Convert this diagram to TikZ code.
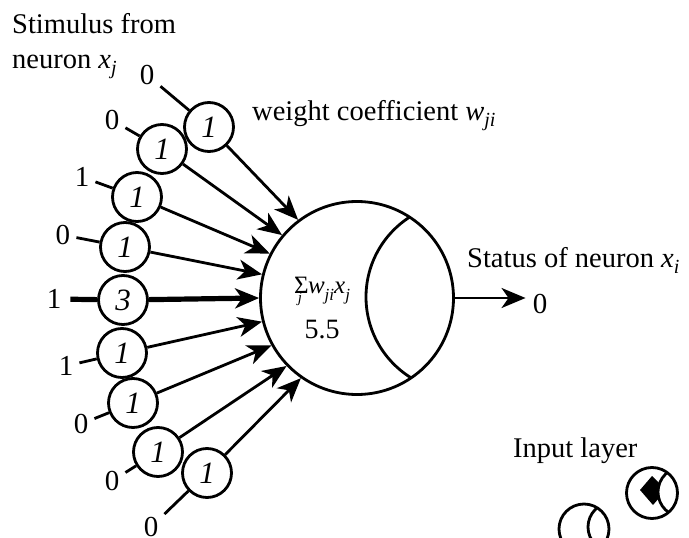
\documentclass[tikz,border=0pt]{standalone}
\usepackage{fontspec}
\setmainfont{Liberation Serif}
\usetikzlibrary{arrows.meta}
\tikzset{
  wcirc/.style={circle, draw, line width=2.8pt, minimum size=49pt, inner sep=0pt, font=\fontsize{31}{31}\selectfont\itshape},
  inlab/.style={inner sep=6pt, font=\fontsize{29}{30}\selectfont},
  conn/.style={line width=2.8pt},
  tip/.style={-{Stealth[length=24pt,width=20pt,inset=7pt]}},
  arr/.style={line width=2.8pt, tip},
  txt/.style={font=\fontsize{28.5}{30}\selectfont, inner sep=0pt, anchor=base west},
  icon/.style={circle, draw, line width=2.8pt, inner sep=0pt},
}
\newcommand{\sbs}[2][20]{\raisebox{-6.5pt}{\fontsize{#1}{#1}\selectfont\itshape #2}}
\begin{document}
\begin{tikzpicture}[x=1pt,y=-1pt]
\useasboundingbox (0,0) rectangle (689,538);
\clip (0,0) rectangle (689,538);

% main neuron
\node[circle, draw, line width=2.8pt, minimum size=193pt, inner sep=0pt] (big) at (357,298) {};
\begin{scope}
  \clip (357,298) circle (96.5pt);
  \draw[conn] (461,297) circle (95pt);
\end{scope}
\node[font=\fontsize{25}{25}\selectfont, inner sep=0pt, anchor=base] (sum) at (322,293)
  {Σ\hspace{-0.62em}\raisebox{-9pt}[0pt][0pt]{\makebox[0.55em]{\fontsize{15}{15}\selectfont\itshape j}}\hspace{0.05em}\textit{w}\raisebox{-0.3em}{\fontsize{17}{17}\selectfont\itshape ji}\textit{x}\raisebox{-0.3em}{\fontsize{17}{17}\selectfont\itshape j}};
\node[font=\fontsize{28}{28}\selectfont, inner sep=0pt, anchor=base] (val) at (322,338) {5.5};

% inputs
\foreach \n/\cx/\cy/\lx/\ly/\v/\a in {
  1/209/127/147/75/0/127,
  2/162/149/112/120/0/140,
  3/137/197/82/177/1/153,
  4/125/247/63/235/0/166,
  6/122/353/66/366/1/194,
  7/133/403/81/424/0/209,
  8/158/452/112/481/0/224,
  9/207/473/151/527/0/235}{
  \node[wcirc] (c\n) at (\cx,\cy) {1};
  \node[inlab] (l\n) at (\lx,\ly) {\v};
  \draw[conn] (l\n) -- (c\n);
  \draw[arr] (c\n) -- (big.\a);
}
\node[wcirc] (c5) at (123,300) {3};
\node[inlab, inner sep=9pt] (l5) at (54,299) {1};
\draw[line width=5.2pt] (l5) -- (c5);
\draw[line width=5.2pt, tip] (c5) -- (big.180);

% output
\node[inlab, inner sep=7pt] (o) at (540,304) {0};
\draw[arr] (big.east) -- (o.west |- big.east);

% texts
\node[txt] (s1) at (12,33) {Stimulus from};
\node[txt] (s2) at (12,68) {neuron \textit{x}\sbs{j}};
\node[txt] (wc) at (252,120) {weight coefficient \textit{w}\sbs{ji}};
\node[txt] (st) at (467,267) {Status of neuron \textit{x}\sbs{i}};
\node[txt] (il) at (513,457) {Input layer};

% input layer icons
\fill (640,490) -- (652,476) -- (666,490) -- (653,505) -- cycle;
\begin{scope}
  \clip (652,493) circle (25pt);
  \fill[white] (683,492) circle (25pt);
  \draw[conn] (683,492) circle (25pt);
\end{scope}
\node[icon, minimum size=51pt] (ic1) at (652,493) {};

\node[icon, minimum size=50pt] (ic2) at (584,529) {};
\begin{scope}
  \clip (584,529) circle (25pt);
  \draw[conn] (612.6,527) circle (24.6pt);
\end{scope}
\end{tikzpicture}
\end{document}
